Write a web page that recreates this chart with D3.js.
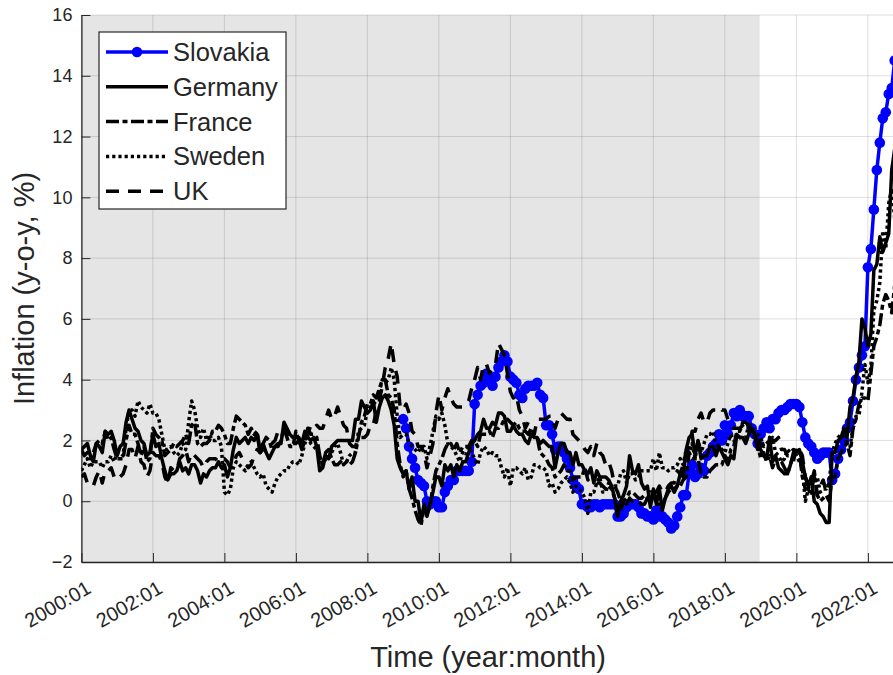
<!DOCTYPE html>
<html>
<head>
<meta charset="utf-8">
<script src="https://cdn.jsdelivr.net/npm/d3@7"></script>
<style>
  body { margin: 0; background: #fff; }
  svg { display: block; }
  text { font-family: "Liberation Sans", Arial, Helvetica, sans-serif; fill: #262626; }
</style>
</head>
<body>
<svg id="chart" width="893" height="675"></svg>
<script>
// Monthly HICP inflation, year-on-year change in %, 2000:01 - 2022:10
const axisStart = "2000:01";
const axisEnd = "2022:10";
const shadedPeriod = ["2000:01", "2019:01"];
const xTickLabels = ["2000:01", "2002:01", "2004:01", "2006:01", "2008:01", "2010:01",
                     "2012:01", "2014:01", "2016:01", "2018:01", "2020:01", "2022:01"];
const yTickValues = [-2, 0, 2, 4, 6, 8, 10, 12, 14, 16];
const seriesNames = ["Slovakia", "Germany", "France", "Sweden", "UK"];
const seriesStart = ["2009:01", "2000:01", "2000:01", "2000:01", "2000:01"];

const slovakia = [
  2.7, 2.4, 1.8, 1.4, 1.1, 0.7, 0.6, 0.5, 0.0, -0.1, 0.0, 0.0,
  -0.2, -0.2, 0.3, 0.5, 0.7, 0.7, 1.0, 1.0, 1.0, 1.0, 1.0, 1.3,
  3.2, 3.5, 3.8, 3.9, 4.2, 4.1, 3.8, 4.1, 4.4, 4.6, 4.8, 4.6,
  4.1, 4.0, 3.9, 3.5, 3.4, 3.7, 3.8, 3.8, 3.8, 3.9, 3.5, 3.4,
  2.5, 2.5, 2.2, 1.7, 1.8, 1.8, 1.6, 1.4, 1.1, 0.7, 0.5, 0.4,
  -0.1, -0.1, -0.2, -0.2, -0.1, -0.1, -0.2, -0.1, -0.1, -0.1, -0.1, -0.1,
  -0.5, -0.5, -0.4, -0.2, -0.1, -0.1, -0.1, -0.2, -0.4, -0.4, -0.5, -0.5,
  -0.6, -0.3, -0.5, -0.5, -0.6, -0.7, -0.9, -0.8, -0.5, -0.2, 0.2, 0.2,
  0.9, 1.2, 0.8, 0.9, 1.1, 1.0, 1.5, 1.6, 1.8, 1.9, 2.2, 2.0,
  2.5, 2.2, 2.5, 2.9, 2.8, 3.0, 2.8, 2.8, 2.8, 2.4, 2.2, 1.9,
  2.2, 2.4, 2.6, 2.4, 2.7, 2.7, 2.9, 3.0, 3.0, 3.1, 3.2, 3.2,
  3.2, 3.1, 2.6, 2.1, 1.9, 1.8, 1.6, 1.4, 1.5, 1.6, 1.6, 1.6,
  0.7, 0.9, 1.4, 1.7, 2.0, 2.4, 2.6, 3.3, 4.0, 4.4, 4.8, 5.1,
  7.7, 8.3, 9.6, 10.9, 11.8, 12.6, 12.8, 13.4, 13.6, 14.5
];

const germany = [
  1.7, 1.8, 1.9, 1.5, 1.3, 1.9, 1.8, 1.6, 2.3, 2.2, 2.3, 2.0,
  1.5, 1.8, 1.9, 2.6, 3.0, 2.7, 2.4, 2.3, 2.0, 1.9, 1.5, 1.6,
  2.2, 1.8, 1.9, 1.4, 1.0, 0.7, 0.9, 0.9, 1.0, 1.3, 1.0, 1.1,
  0.9, 1.2, 1.2, 1.0, 0.6, 0.9, 0.8, 1.0, 1.1, 1.1, 1.3, 1.1,
  1.2, 0.8, 1.1, 1.7, 2.1, 1.9, 2.0, 2.1, 1.9, 2.1, 2.0, 2.2,
  1.6, 1.9, 1.6, 1.4, 1.6, 1.8, 1.9, 1.9, 2.6, 2.4, 2.2, 2.1,
  2.1, 2.1, 1.9, 2.3, 2.1, 2.0, 2.1, 1.8, 1.0, 1.1, 1.5, 1.4,
  1.8, 1.9, 2.0, 2.0, 2.0, 2.0, 2.0, 2.0, 2.7, 2.7, 3.3, 3.1,
  2.9, 3.0, 3.3, 2.6, 3.1, 3.4, 3.5, 3.3, 3.0, 2.5, 1.4, 1.1,
  0.9, 1.0, 0.4, 0.8, 0.0, 0.0, -0.7, -0.1, -0.5, -0.1, 0.3, 0.8,
  0.8, 0.5, 1.2, 1.0, 1.2, 0.8, 1.2, 1.0, 1.3, 1.3, 1.6, 1.9,
  2.0, 2.2, 2.3, 2.7, 2.4, 2.4, 2.6, 2.5, 2.9, 2.9, 2.8, 2.3,
  2.3, 2.5, 2.3, 2.2, 2.2, 2.0, 1.9, 2.2, 2.1, 2.1, 1.9, 2.0,
  1.9, 1.8, 1.8, 1.1, 1.6, 1.9, 1.9, 1.6, 1.6, 1.2, 1.6, 1.2,
  1.2, 1.0, 0.9, 1.1, 0.6, 1.0, 0.8, 0.8, 0.8, 0.7, 0.5, 0.1,
  -0.5, 0.0, 0.2, 0.5, 1.5, 1.0, 0.9, 1.2, 0.6, 0.4, 0.5, -0.2,
  0.4, -0.1, 0.4, -0.3, 0.1, 0.4, 0.5, 0.3, 0.5, 0.9, 0.8, 1.7,
  2.1, 2.2, 1.5, 2.0, 1.4, 1.5, 1.5, 1.8, 1.8, 1.5, 1.8, 1.6,
  1.4, 1.2, 1.5, 1.4, 2.2, 2.1, 2.1, 1.9, 2.2, 2.4, 2.2, 1.7,
  1.7, 1.5, 1.4, 2.1, 1.3, 1.5, 1.1, 1.0, 0.9, 0.9, 1.2, 1.5,
  1.6, 1.7, 1.3, 0.8, 0.5, 0.8, 0.0, -0.1, -0.4, -0.5, -0.7, -0.7,
  1.6, 1.6, 2.0, 2.1, 2.4, 2.1, 3.1, 3.4, 4.1, 4.6, 6.0, 5.7,
  5.1, 5.5, 7.6, 7.8, 8.7, 8.2, 8.5, 8.8, 10.9, 11.6
];

const france = [
  1.7, 1.5, 1.6, 1.4, 1.6, 1.9, 2.0, 1.9, 2.3, 2.0, 2.1, 1.7,
  1.4, 1.4, 1.4, 2.0, 2.5, 2.2, 2.2, 1.9, 1.5, 1.8, 1.3, 1.4,
  2.4, 2.2, 2.1, 2.0, 1.5, 1.6, 1.7, 1.9, 1.8, 1.9, 2.0, 2.2,
  1.9, 2.5, 2.6, 1.9, 1.8, 1.9, 1.9, 2.0, 2.3, 2.3, 2.5, 2.4,
  2.2, 1.9, 1.9, 2.4, 2.8, 2.7, 2.6, 2.5, 2.2, 2.4, 2.2, 2.3,
  1.6, 1.9, 2.1, 2.0, 1.7, 1.8, 1.8, 2.0, 2.4, 2.1, 1.8, 1.8,
  2.3, 2.0, 1.7, 2.0, 2.4, 2.2, 2.2, 2.1, 1.5, 1.2, 1.6, 1.7,
  1.4, 1.2, 1.2, 1.3, 1.2, 1.3, 1.2, 1.3, 1.6, 2.1, 2.6, 2.8,
  3.2, 3.2, 3.5, 3.4, 3.7, 4.0, 4.0, 3.5, 3.4, 3.0, 1.9, 1.2,
  0.8, 1.0, 0.4, 0.1, -0.3, -0.6, -0.8, -0.2, -0.4, -0.2, 0.5, 1.0,
  1.2, 1.4, 1.7, 1.9, 1.9, 1.7, 1.9, 1.6, 1.8, 1.8, 1.8, 2.0,
  2.0, 1.8, 2.2, 2.2, 2.2, 2.3, 2.1, 2.4, 2.4, 2.5, 2.7, 2.7,
  2.6, 2.5, 2.6, 2.4, 2.3, 2.3, 2.2, 2.4, 2.2, 2.1, 1.6, 1.5,
  1.4, 1.2, 1.1, 0.8, 0.9, 1.0, 1.2, 1.0, 1.0, 0.7, 0.8, 0.8,
  0.8, 1.1, 0.7, 0.8, 0.8, 0.6, 0.6, 0.5, 0.4, 0.5, 0.4, 0.1,
  -0.4, -0.3, 0.0, 0.1, 0.3, 0.3, 0.2, 0.1, 0.1, 0.2, 0.1, 0.3,
  0.3, -0.1, -0.1, -0.1, 0.1, 0.3, 0.4, 0.4, 0.5, 0.5, 0.7, 0.8,
  1.6, 1.4, 1.4, 1.4, 0.9, 0.8, 0.8, 1.0, 1.1, 1.2, 1.2, 1.2,
  1.5, 1.3, 1.7, 1.8, 2.3, 2.3, 2.6, 2.6, 2.5, 2.5, 2.2, 1.9,
  1.4, 1.6, 1.3, 1.5, 1.1, 1.4, 1.3, 1.3, 1.1, 0.9, 1.2, 1.6,
  1.7, 1.6, 0.8, 0.4, 0.4, 0.2, 0.9, 0.2, 0.0, 0.1, 0.2, 0.0,
  0.8, 0.8, 1.4, 1.6, 1.8, 1.9, 1.5, 2.4, 2.7, 3.2, 3.4, 3.4,
  3.3, 4.2, 5.1, 5.4, 5.8, 6.5, 6.8, 6.6, 6.2, 7.1
];

const sweden = [
  1.0, 1.2, 1.4, 1.1, 1.3, 1.3, 1.3, 1.1, 1.3, 1.3, 1.5, 1.3,
  1.6, 1.6, 1.5, 2.4, 3.0, 3.0, 2.8, 3.3, 3.1, 3.0, 2.9, 3.2,
  2.9, 2.9, 2.7, 2.2, 1.7, 1.7, 1.8, 1.6, 1.5, 1.6, 1.9, 1.7,
  2.6, 3.3, 3.0, 2.4, 2.1, 2.4, 2.0, 2.2, 2.0, 2.0, 2.1, 1.8,
  0.3, 0.2, 0.4, 1.1, 1.3, 1.2, 1.1, 1.0, 1.2, 1.3, 1.1, 0.9,
  0.8, 0.9, 0.5, 0.4, 0.3, 0.6, 0.8, 0.9, 1.0, 1.0, 1.2, 1.3,
  1.3, 1.2, 1.5, 1.9, 2.1, 1.9, 1.8, 1.7, 1.5, 1.2, 1.4, 1.4,
  1.6, 1.8, 1.9, 1.6, 1.2, 1.3, 1.5, 1.6, 1.6, 2.3, 2.4, 2.5,
  3.0, 3.1, 3.2, 3.3, 3.6, 4.0, 3.9, 4.0, 4.4, 4.0, 2.8, 2.1,
  2.2, 2.2, 1.9, 1.8, 1.7, 1.6, 1.8, 1.8, 1.4, 1.8, 2.3, 2.8,
  2.7, 2.9, 2.5, 1.9, 1.8, 1.7, 1.5, 1.3, 1.6, 1.5, 1.8, 1.6,
  1.4, 1.2, 1.6, 1.8, 1.7, 1.5, 1.6, 1.5, 1.5, 1.1, 0.8, 1.1,
  0.5, 1.1, 1.1, 1.0, 0.9, 1.1, 0.7, 0.8, 1.2, 1.2, 1.1, 1.1,
  1.0, 0.5, 0.6, 0.3, 0.4, 0.6, 0.7, 0.8, 0.6, 0.3, 0.5, 0.4,
  0.3, 0.1, -0.4, 0.3, 0.3, 0.6, 0.8, 0.3, 0.3, 0.6, 0.4, 0.5,
  0.5, 0.9, 1.0, 0.6, 0.9, 0.9, 0.7, 0.8, 1.0, 1.0, 1.0, 1.0,
  1.4, 1.0, 1.6, 1.1, 1.1, 1.0, 1.1, 1.1, 1.2, 1.4, 1.2, 1.7,
  1.6, 1.9, 1.4, 2.0, 1.6, 1.9, 2.2, 2.2, 2.3, 1.9, 1.8, 1.7,
  1.6, 1.9, 2.2, 2.0, 2.0, 2.1, 2.1, 2.1, 2.5, 2.4, 2.1, 2.2,
  2.1, 1.8, 1.9, 2.0, 2.1, 1.6, 1.5, 1.3, 1.4, 1.7, 1.6, 1.7,
  1.5, 1.3, 1.1, 0.0, 0.4, 0.7, 0.8, 0.8, 0.3, 0.4, 0.4, 0.6,
  1.6, 1.9, 2.1, 2.2, 2.1, 1.9, 1.8, 2.4, 2.8, 2.8, 3.6, 4.5,
  3.9, 4.4, 6.3, 6.6, 7.2, 8.9, 8.3, 9.8, 10.3, 9.3
];

const uk = [
  0.8, 0.9, 0.6, 0.6, 0.5, 0.8, 1.0, 0.6, 1.0, 1.0, 1.1, 0.8,
  0.9, 0.8, 0.9, 1.2, 1.7, 1.7, 1.4, 1.8, 1.3, 1.2, 0.8, 1.0,
  1.6, 1.5, 1.5, 1.3, 0.8, 0.6, 1.1, 1.0, 1.0, 1.4, 1.5, 1.7,
  1.3, 1.6, 1.5, 1.4, 1.3, 1.1, 1.3, 1.4, 1.4, 1.4, 1.3, 1.3,
  1.4, 1.3, 1.1, 1.2, 1.5, 1.6, 1.4, 1.3, 1.1, 1.2, 1.5, 1.7,
  1.6, 1.7, 1.9, 1.9, 1.9, 2.0, 2.3, 2.4, 2.5, 2.3, 2.1, 1.9,
  1.9, 2.0, 1.8, 2.0, 2.2, 2.5, 2.4, 2.5, 2.4, 2.4, 2.7, 3.0,
  2.7, 2.8, 3.1, 2.8, 2.5, 2.4, 1.9, 1.8, 1.8, 2.1, 2.1, 2.1,
  2.2, 2.5, 2.5, 3.0, 3.3, 3.8, 4.4, 4.7, 5.2, 4.5, 4.1, 3.1,
  3.0, 3.2, 2.9, 2.3, 2.2, 1.8, 1.8, 1.6, 1.1, 1.5, 1.9, 2.9,
  3.5, 3.0, 3.4, 3.7, 3.4, 3.2, 3.1, 3.1, 3.1, 3.2, 3.3, 3.7,
  4.0, 4.4, 4.0, 4.5, 4.5, 4.2, 4.4, 4.5, 5.2, 5.0, 4.8, 4.2,
  3.6, 3.4, 3.5, 3.0, 2.8, 2.4, 2.6, 2.5, 2.2, 2.7, 2.7, 2.7,
  2.7, 2.8, 2.8, 2.4, 2.7, 2.9, 2.8, 2.7, 2.7, 2.2, 2.1, 2.0,
  1.9, 1.7, 1.6, 1.8, 1.5, 1.9, 1.6, 1.5, 1.2, 1.3, 1.0, 0.5,
  0.3, 0.0, 0.0, -0.1, 0.1, 0.0, 0.1, 0.0, -0.1, -0.1, 0.1, 0.2,
  0.3, 0.3, 0.5, 0.3, 0.3, 0.5, 0.6, 0.6, 1.0, 0.9, 1.2, 1.6,
  1.8, 2.3, 2.3, 2.7, 2.9, 2.6, 2.6, 2.9, 3.0, 3.0, 3.1, 3.0,
  3.0, 2.7, 2.5, 2.4, 2.4, 2.4, 2.5, 2.7, 2.4, 2.4, 2.3, 2.1,
  1.8, 1.9, 1.9, 2.1, 2.0, 2.0, 2.1, 1.7, 1.7, 1.5, 1.5, 1.3,
  1.8, 1.7, 1.5, 0.8, 0.5, 0.6, 1.0, 0.2, 0.5, 0.7, 0.3, 0.6
];

const seriesValues = [slovakia, germany, france, sweden, uk];

// Line styles per series, in legend order
const seriesStyle = [
  { color: "#0000ff", width: 3.5, dash: null, marker: true },
  { color: "#000000", width: 3.5, dash: null, marker: false },
  { color: "#000000", width: 3.5, dash: "13,3.5,5,3.5", marker: false },
  { color: "#000000", width: 3.5, dash: "3.2,3", marker: false },
  { color: "#000000", width: 3.5, dash: "13,9", marker: false }
];

// "YYYY:MM" -> months since axisStart
const monthIndex = s => {
  const [y, m] = s.split(":").map(Number);
  const [y0, m0] = axisStart.split(":").map(Number);
  return (y - y0) * 12 + (m - m0);
};

const svg = d3.select("#chart");
const plot = { left: 81.4, right: 894.7, top: 15, bottom: 562 };

const x = d3.scaleLinear()
  .domain([monthIndex(axisStart), monthIndex(axisEnd)])
  .range([plot.left, plot.right]);
const y = d3.scaleLinear().domain([-2, 16]).range([plot.bottom, plot.top]);

svg.append("defs").append("clipPath").attr("id", "plotClip")
  .append("rect")
  .attr("x", plot.left).attr("y", plot.top - 2)
  .attr("width", plot.right - plot.left).attr("height", plot.bottom - plot.top + 4);

// shaded period
svg.append("rect")
  .attr("x", x(monthIndex(shadedPeriod[0])))
  .attr("y", y(16))
  .attr("width", x(monthIndex(shadedPeriod[1])) - x(monthIndex(shadedPeriod[0])) - 1)
  .attr("height", y(-2) - y(16))
  .attr("fill", "#e5e5e5");

const xTickIdx = xTickLabels.map(monthIndex);

// grid
const grid = svg.append("g").attr("stroke", "#262626").attr("stroke-opacity", 0.15).attr("stroke-width", 1);
grid.selectAll("line.v").data(xTickIdx).join("line")
  .attr("x1", d => x(d)).attr("x2", d => x(d))
  .attr("y1", plot.top).attr("y2", plot.bottom);
grid.selectAll("line.h").data(yTickValues).join("line")
  .attr("x1", plot.left).attr("x2", plot.right)
  .attr("y1", d => y(d)).attr("y2", d => y(d));

// axes (ticks point inward)
const yAxis = svg.append("g")
  .attr("transform", `translate(${plot.left},0)`)
  .call(d3.axisLeft(y).tickValues(yTickValues).tickSize(-9).tickPadding(9).tickSizeOuter(0));
yAxis.selectAll("text").attr("font-size", 18).style("font-family", '"Liberation Sans", Arial, sans-serif').attr("fill", "#262626");

const xAxis = svg.append("g")
  .attr("transform", `translate(0,${plot.bottom})`)
  .call(d3.axisBottom(x).tickValues(xTickIdx).tickSize(-9).tickSizeOuter(0)
    .tickFormat((d, i) => xTickLabels[i]));
xAxis.selectAll("text")
  .attr("font-size", 20)
  .style("font-family", '"Liberation Sans", Arial, sans-serif')
  .attr("fill", "#262626")
  .attr("text-anchor", "end")
  .attr("x", 0).attr("y", 0).attr("dy", "0.35em")
  .attr("transform", "translate(7,24) rotate(-30)");

[yAxis, xAxis].forEach(a => {
  a.select(".domain").attr("stroke", "#262626").attr("stroke-width", 1.3);
  a.selectAll(".tick line").attr("stroke", "#262626").attr("stroke-width", 1);
});

// series
const lines = svg.append("g").attr("clip-path", "url(#plotClip)");
seriesValues.forEach((vals, k) => {
  const s0 = monthIndex(seriesStart[k]);
  const pts = vals.map((v, i) => [s0 + i, v]);
  const st = seriesStyle[k];
  const line = d3.line().x(d => x(d[0])).y(d => y(d[1]));
  lines.append("path")
    .attr("d", line(pts))
    .attr("fill", "none")
    .attr("stroke", st.color)
    .attr("stroke-width", st.width)
    .attr("stroke-linejoin", "round")
    .attr("stroke-dasharray", st.dash);
  if (st.marker) {
    lines.append("g").selectAll("circle").data(pts).join("circle")
      .attr("cx", d => x(d[0])).attr("cy", d => y(d[1]))
      .attr("r", 5.3).attr("fill", st.color);
  }
});

// axis titles
svg.append("text")
  .attr("transform", `translate(34,${(plot.top + plot.bottom) / 2}) rotate(-90)`)
  .attr("text-anchor", "middle")
  .attr("font-size", 29)
  .text("Inflation (y-o-y, %)");
svg.append("text")
  .attr("x", (plot.left + plot.right) / 2).attr("y", 667)
  .attr("text-anchor", "middle")
  .attr("font-size", 29)
  .text("Time (year:month)");

// legend
const legend = svg.append("g");
legend.append("rect")
  .attr("x", 99).attr("y", 32).attr("width", 187).attr("height", 177)
  .attr("fill", "#fff").attr("stroke", "#262626").attr("stroke-width", 1.2);
seriesNames.forEach((name, k) => {
  const cy = 52 + k * 34.8;
  const st = seriesStyle[k];
  legend.append("line")
    .attr("x1", 106).attr("x2", 168).attr("y1", cy).attr("y2", cy)
    .attr("stroke", st.color).attr("stroke-width", st.width)
    .attr("stroke-dasharray", st.dash);
  if (st.marker) {
    legend.append("circle").attr("cx", 137).attr("cy", cy).attr("r", 5.3).attr("fill", st.color);
  }
  legend.append("text")
    .attr("x", 173).attr("y", cy).attr("dy", "0.35em")
    .attr("font-size", 25.5)
    .text(name);
});
</script>
</body>
</html>
